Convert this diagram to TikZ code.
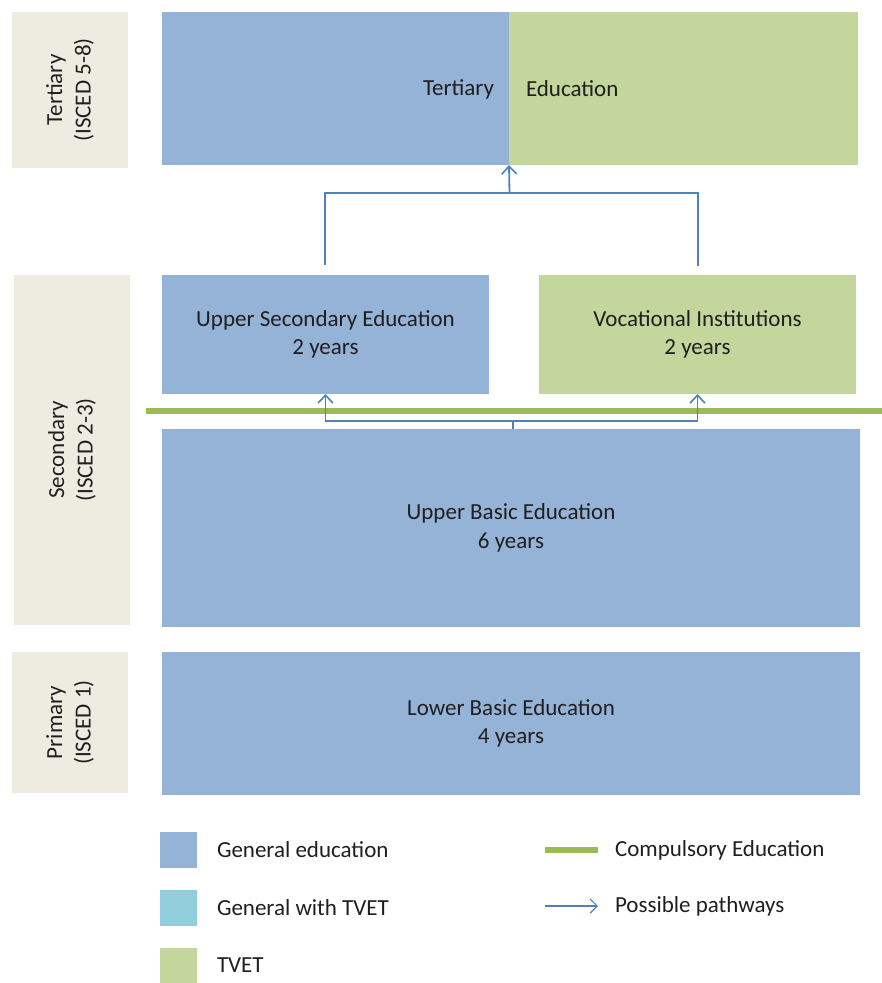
\documentclass[tikz,border=0pt]{standalone}
\usepackage{fontspec}
\setmainfont{Carlito}
\usetikzlibrary{arrows.meta}
\definecolor{genblue}{HTML}{95B3D7}
\definecolor{tvetgreen}{HTML}{C3D69B}
\definecolor{gwtvet}{HTML}{92CDDC}
\definecolor{labelbg}{HTML}{EEECE1}
\definecolor{pathblue}{HTML}{4F81BD}
\definecolor{compgreen}{HTML}{9BBB59}
\definecolor{txt}{HTML}{1F1F1F}
\begin{document}
\begin{tikzpicture}[x=1pt,y=-1pt,
  every node/.style={inner sep=0pt, outer sep=0pt, text=txt, font=\fontsize{23}{28.5}\selectfont},
  lvl/.style={fill=labelbg, rotate=90, align=center},
  gen/.style={fill=genblue, align=center},
  tvet/.style={fill=tvetgreen, align=center},
  pw/.style={draw=pathblue, line width=1.8pt},
  pwa/.style={pw, -{Straight Barb[length=8pt,width=15pt,line width=1.6pt]}},
  comp/.style={draw=compgreen, line width=6pt},
  legtxt/.style={anchor=west}]
\useasboundingbox (0,0) rectangle (882,983);
% level labels
\node[lvl, minimum width=156pt, minimum height=116pt] (lt) at (70,90) {Tertiary\\(ISCED 5-8)};
\node[lvl, minimum width=350pt, minimum height=116pt] (ls) at (72,450) {Secondary\\(ISCED 2-3)};
\node[lvl, minimum width=141pt, minimum height=116pt] (lp) at (70,722.5) {Primary\\(ISCED 1)};
% tertiary
\node[gen, minimum width=347pt, minimum height=153pt] (tb) at (335.5,88.5) {};
\node[tvet, minimum width=349pt, minimum height=153pt] (tg) at (683.5,88.5) {};
\node[anchor=east] (tt1) at (494,89) {Tertiary};
\node[anchor=west] (tt2) at (526,89) {Education};
% secondary
\node[gen, minimum width=327pt, minimum height=119pt] (usec) at (325.5,334.5) {Upper Secondary Education\\2 years};
\node[tvet, minimum width=317pt, minimum height=119pt] (voc) at (697.5,334.5) {Vocational Institutions\\2 years};
\node[gen, minimum width=698pt, minimum height=198pt] (ub) at (511,528) {Upper Basic Education\\6 years};
\node[gen, minimum width=698pt, minimum height=143pt] (lb) at (511,723.5) {Lower Basic Education\\4 years};
% compulsory line
\coordinate (c1) at (146,411);
\coordinate (c2) at (882,411);
\draw[comp] (c1) -- (c2);
% pathways to tertiary
\coordinate (jt) at (509.5,193);
\coordinate (ua) at (325,265);
\coordinate (va) at (698,266);
\draw[pw] (ua) |- (jt) -| (va);
\draw[pwa] (jt) -- (tb.south east);
% pathways from upper basic
\coordinate (jb) at (513,421);
\draw[pw] (jb |- ub.north) -- (jb);
\draw[pwa] (jb) -| (usec.south);
\draw[pwa] (jb) -| (voc.south);
% legend
\node[fill=genblue, minimum width=37pt, minimum height=36pt] (k1) at (178.5,850) {};
\node[fill=gwtvet, minimum width=37pt, minimum height=36pt] (k2) at (178.5,907.5) {};
\node[fill=tvetgreen, minimum width=37pt, minimum height=36pt] (k3) at (178.5,965.5) {};
\node[legtxt] (t1) at (217,850) {General education};
\node[legtxt] (t2) at (217,907.5) {General with TVET};
\node[legtxt] (t3) at (217,965.5) {TVET};
\coordinate (l1a) at (545,850);
\coordinate (l1b) at (598,850);
\draw[comp] (l1a) -- (l1b);
\node[legtxt] (t4) at (615,850) {Compulsory Education};
\coordinate (l2a) at (545,906);
\coordinate (l2b) at (598,906);
\draw[pw, line width=1.2pt, -{Straight Barb[length=7pt,width=14pt,line width=1.2pt]}] (l2a) -- (l2b);
\node[legtxt] (t5) at (615,906) {Possible pathways};
\end{tikzpicture}
\end{document}
